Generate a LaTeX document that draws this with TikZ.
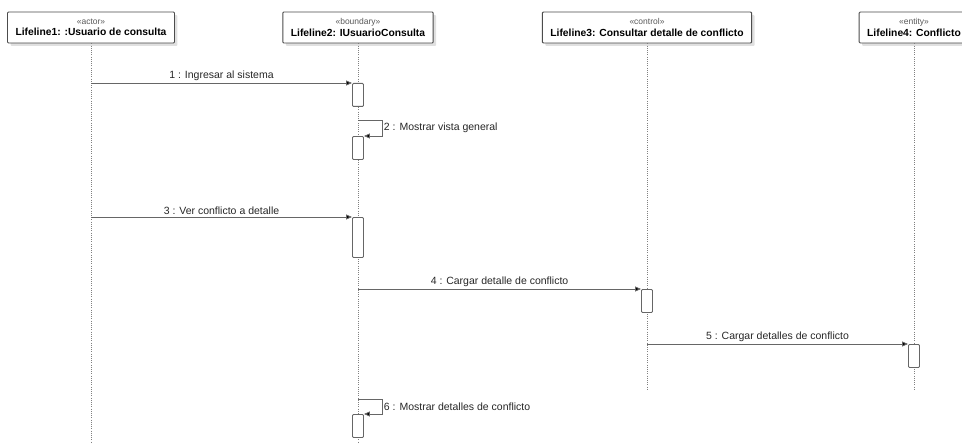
\documentclass[tikz,border=0pt]{standalone}
\usepackage{fontspec}
\setmainfont{Liberation Sans}
\usetikzlibrary{
    arrows.meta,
    shadows,
    calc,
    positioning
}

\tikzset{
    lifehead/.style={draw=black!70, line width=0.9pt, fill=white, rounded corners=1pt,
        minimum height=31pt, inner xsep=8pt, inner ysep=2pt, align=center,
        font=\fontsize{10.3}{11.5}\selectfont\bfseries,
        drop shadow={shadow xshift=3pt, shadow yshift=-3pt, fill=black!12, opacity=1}},
    lifeline/.style={draw=black!50, line width=0.8pt, dash pattern=on 1pt off 1.2pt},
    activation/.style={draw=black!60, line width=0.9pt, fill=white, rounded corners=1pt,
        minimum width=11pt, minimum height=23pt, inner sep=0pt, anchor=north},
    msg/.style={draw=black!60, line width=0.9pt, -{Triangle[length=6pt, width=5pt, fill=black]}},
    msglabel/.style={font=\fontsize{10.5}{12}\selectfont, inner sep=1.5pt, text=black!85}
}
\newcommand{\stereo}[1]{{\mdseries\fontsize{8.5}{11.5}\selectfont\color{black!65}«#1»}}

\begin{document}
\begin{tikzpicture}[x=1pt, y=-1pt]
\useasboundingbox (0,0) rectangle (962,444);

% lifeline heads
\node[lifehead] (l1) at (91,27.5) {\stereo{actor}\\Lifeline1: :Usuario de consulta};
\node[lifehead] (l2) at (358,27.5) {\stereo{boundary}\\Lifeline2: IUsuarioConsulta};
\node[lifehead] (l3) at (647,27.5) {\stereo{control}\\Lifeline3: Consultar detalle de conflicto};
\node[lifehead] (l4) at (914,27.5) {\stereo{entity}\\Lifeline4: Conflicto};

% lifelines
\coordinate (e1) at (l1 |- 0,444);
\coordinate (e2) at (l2 |- 0,444);
\coordinate (e3) at (l3 |- 0,391);
\coordinate (e4) at (l4 |- 0,391);
\draw[lifeline] (l1) -- (e1);
\draw[lifeline] (l2) -- (e2);
\draw[lifeline] (l3) -- (e3);
\draw[lifeline] (l4) -- (e4);

% activations
\node[activation] (a1) at (358,83) {};
\node[activation] (a2) at (358,136) {};
\node[activation, minimum height=40pt] (a3) at (358,217) {};
\node[activation] (a4) at (647,289) {};
\node[activation] (a5) at (914,344) {};
\node[activation] (a6) at (358,414) {};

% messages
\draw[msg] (l1 |- a1.north) -- node[msglabel, above] {1 : Ingresar al sistema} (a1.north west);
\draw[msg] ([yshift=16pt]a2.north) -- ++(24,0) |- node[msglabel, pos=0.25, right] {2 : Mostrar vista general} (a2.north east);
\draw[msg] (l1 |- a3.north) -- node[msglabel, above] {3 : Ver conflicto a detalle} (a3.north west);
\draw[msg] (l2 |- a4.north) -- node[msglabel, above] {4 : Cargar detalle de conflicto} (a4.north west);
\draw[msg] (l3 |- a5.north) -- node[msglabel, above] {5 : Cargar detalles de conflicto} (a5.north west);
\draw[msg] ([yshift=15pt]a6.north) -- ++(24,0) |- node[msglabel, pos=0.25, right] {6 : Mostrar detalles de conflicto} (a6.north east);
\end{tikzpicture}
\end{document}
